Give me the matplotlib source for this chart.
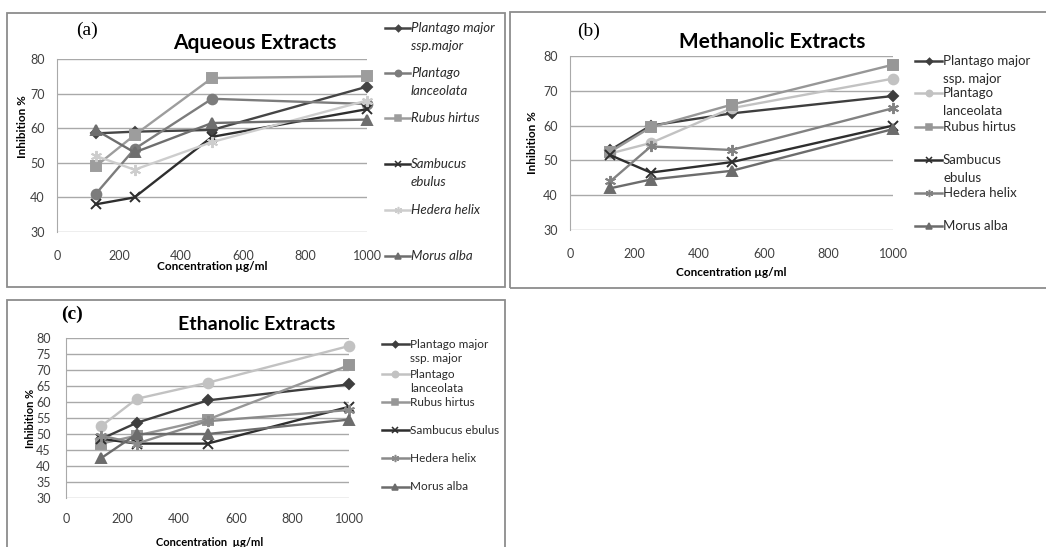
import matplotlib
matplotlib.use("Agg")
import matplotlib.pyplot as plt
from matplotlib.lines import Line2D
from matplotlib.patches import Rectangle

plt.rcParams['font.family'] = ['Lato', 'DejaVu Sans']

W, H = 1046, 547

conc = [125, 250, 500, 1000]
x_ticks = [0, 200, 400, 600, 800, 1000]

# aqueous extracts (a)
aq_major = [58.5, 59, 59.5, 72]
aq_lanceolata = [41, 54, 68.5, 67]
aq_rubus = [49, 58, 74.5, 75]
aq_sambucus = [38, 40, 57.5, 65.5]
aq_hedera = [52, 48, 56, 68]
aq_morus = [59.5, 53, 61.5, 62.5]

# methanolic extracts (b)
me_major = [53, 60, 63.5, 68.5]
me_lanceolata = [52, 55, 65, 73.5]
me_rubus = [52.5, 59.5, 66, 77.5]
me_sambucus = [51.5, 46.5, 49.5, 60]
me_hedera = [44, 54, 53, 65]
me_morus = [42, 44.5, 47, 59]

# ethanolic extracts (c)
et_major = [48.5, 53.5, 60.5, 65.5]
et_lanceolata = [52.5, 61, 66, 77.5]
et_rubus = [47, 49.5, 54.5, 71.5]
et_sambucus = [48.5, 47, 47, 58.5]
et_hedera = [49.5, 47, 54, 57.5]
et_morus = [42.5, 50, 50, 54.5]

labels_a = ["Plantago major\nssp.major", "Plantago\nlanceolata", "Rubus hirtus",
            "Sambucus\nebulus", "Hedera helix", "Morus alba"]
labels_b = ["Plantago major\nssp. major", "Plantago\nlanceolata", "Rubus hirtus",
            "Sambucus\nebulus", "Hedera helix", "Morus alba"]
labels_c = ["Plantago major\nssp. major", "Plantago\nlanceolata", "Rubus hirtus",
            "Sambucus ebulus", "Hedera helix", "Morus alba"]

star = (6, 2, 0)
markers = ['D', 'o', 's', 'x', star, '^']
msizes = [5, 7, 7, 7, 8, 7]
colors_a = ['#454545', '#7c7c7c', '#9d9d9d', '#2e2e2e', '#cdcdcd', '#6e6e6e']
colors_b = ['#3e3e3e', '#c2c2c2', '#979797', '#2e2e2e', '#828282', '#6c6c6c']
colors_c = ['#3e3e3e', '#c2c2c2', '#979797', '#2e2e2e', '#8a8a8a', '#6c6c6c']


def fx(x):
    return x / W


def fy(y):
    return 1 - y / H


def make_axes(fig, left, right, top, bottom):
    return fig.add_axes([fx(left), fy(bottom), fx(right - left), (bottom - top) / H])


def draw_panel(ax, series, colors, yticks):
    for vals, c, m, ms in zip(series, colors, markers, msizes):
        ax.plot(conc, vals, color=c, lw=1.7, marker=m, ms=ms,
                mec=c, mfc=c, mew=1.4, clip_on=False, zorder=3)
    ax.set_xlim(0, 1000)
    ax.set_ylim(30, 80)
    ax.set_xticks(x_ticks)
    ax.set_yticks(yticks)
    ax.grid(axis='y', color='#a9a9a9', lw=1)
    ax.set_axisbelow(True)
    for s in ['top', 'right', 'bottom']:
        ax.spines[s].set_visible(False)
    ax.spines['left'].set_color('#a9a9a9')
    ax.tick_params(length=0, labelsize=9, labelcolor='#404040')
    ax.set_facecolor('none')


def draw_legend(fig, x0, x1, ys, labels, colors, fontsize, gap, style):
    for y, lab, c, m, ms in zip(ys, labels, colors, markers, msizes):
        fig.add_artist(Line2D([fx(x0), fx(x1)], [fy(y), fy(y)], color=c, lw=1.8,
                              transform=fig.transFigure))
        fig.add_artist(Line2D([fx((x0 + x1) / 2)], [fy(y)], color=c, marker=m,
                              ms=ms * 0.65, mfc=c, mec=c, mew=1.1,
                              transform=fig.transFigure))
        for k, line in enumerate(lab.split("\n")):
            fig.text(fx(x1 + 1), fy(y + k * gap), line, fontsize=fontsize,
                     style=style, va='center', ha='left', color='#2a2a2a')


fig = plt.figure(figsize=(W / 100, H / 100), dpi=100)

# panel frames
for (l, t, r, b) in [(7, 13, 505, 287), (510, 12, 1060, 288), (7, 300, 505, 560)]:
    fig.add_artist(Rectangle((fx(l), fy(b)), fx(r - l), (b - t) / H, fill=False,
                             ec='#8c8c8c', lw=1.3, transform=fig.transFigure))

# (a)
ax_a = make_axes(fig, 57, 367, 59, 232)
draw_panel(ax_a, [aq_major, aq_lanceolata, aq_rubus, aq_sambucus, aq_hedera, aq_morus],
           colors_a, [30, 40, 50, 60, 70, 80])
ax_a.tick_params(axis='x', pad=13)
ax_a.tick_params(axis='y', pad=9)
ax_a.set_xlabel("Concentration µg/ml", fontsize=8.5, fontweight='bold', va='center')
ax_a.xaxis.set_label_coords(0.5, (232 - 267) / 173)
ax_a.set_ylabel("Inhibition %", fontsize=8.5, fontweight='bold', va='center')
ax_a.yaxis.set_label_coords((23 - 57) / 310, (232 - 127) / 173)
fig.text(fx(255), fy(43), "Aqueous Extracts", fontsize=15, fontweight='bold',
         ha='center', va='center')
fig.text(fx(87), fy(30), "(a)", fontsize=14, family='Liberation Serif',
         ha='center', va='center')
draw_legend(fig, 385, 410, [28, 73, 118, 164, 210, 256], labels_a, colors_a, 9.5, 18, 'italic')

# (b)
ax_b = make_axes(fig, 570, 893, 56, 230)
draw_panel(ax_b, [me_major, me_lanceolata, me_rubus, me_sambucus, me_hedera, me_morus],
           colors_b, [30, 40, 50, 60, 70, 80])
ax_b.tick_params(axis='x', pad=13)
ax_b.tick_params(axis='y', pad=9)
ax_b.set_xlabel("Concentration µg/ml", fontsize=8.5, fontweight='bold', va='center')
ax_b.xaxis.set_label_coords(0.5, (230 - 273) / 174)
ax_b.set_ylabel("Inhibition %", fontsize=8.5, fontweight='bold', va='center')
ax_b.yaxis.set_label_coords((533 - 570) / 323, (230 - 143) / 174)
fig.text(fx(772), fy(42), "Methanolic Extracts", fontsize=15, fontweight='bold',
         ha='center', va='center')
fig.text(fx(589), fy(31), "(b)", fontsize=14, family='Liberation Serif',
         ha='center', va='center')
draw_legend(fig, 915, 942, [61, 93, 127, 160, 193, 226], labels_b, colors_b, 9.5, 18, 'normal')

# (c)
ax_c = make_axes(fig, 66, 349, 338, 498)
draw_panel(ax_c, [et_major, et_lanceolata, et_rubus, et_sambucus, et_hedera, et_morus],
           colors_c, [30, 35, 40, 45, 50, 55, 60, 65, 70, 75, 80])
ax_c.tick_params(axis='x', pad=11)
ax_c.tick_params(axis='y', pad=11)
ax_c.set_xlabel("Concentration  µg/ml", fontsize=8, fontweight='bold', va='center')
ax_c.xaxis.set_label_coords((210 - 66) / 283, (498 - 542) / 160)
ax_c.set_ylabel("Inhibition %", fontsize=8, fontweight='bold', va='center')
ax_c.yaxis.set_label_coords((30 - 66) / 283, 0.5)
fig.text(fx(257), fy(325), "Ethanolic Extracts", fontsize=14, fontweight='bold',
         ha='center', va='center')
fig.text(fx(72), fy(314), "(c)", fontsize=14, fontweight='bold', family='Liberation Serif',
         ha='center', va='center')
draw_legend(fig, 382, 409, [344, 374, 402, 430, 458, 487], labels_c, colors_c, 8.5, 15, 'normal')

fig.savefig("out.png", dpi=100)
